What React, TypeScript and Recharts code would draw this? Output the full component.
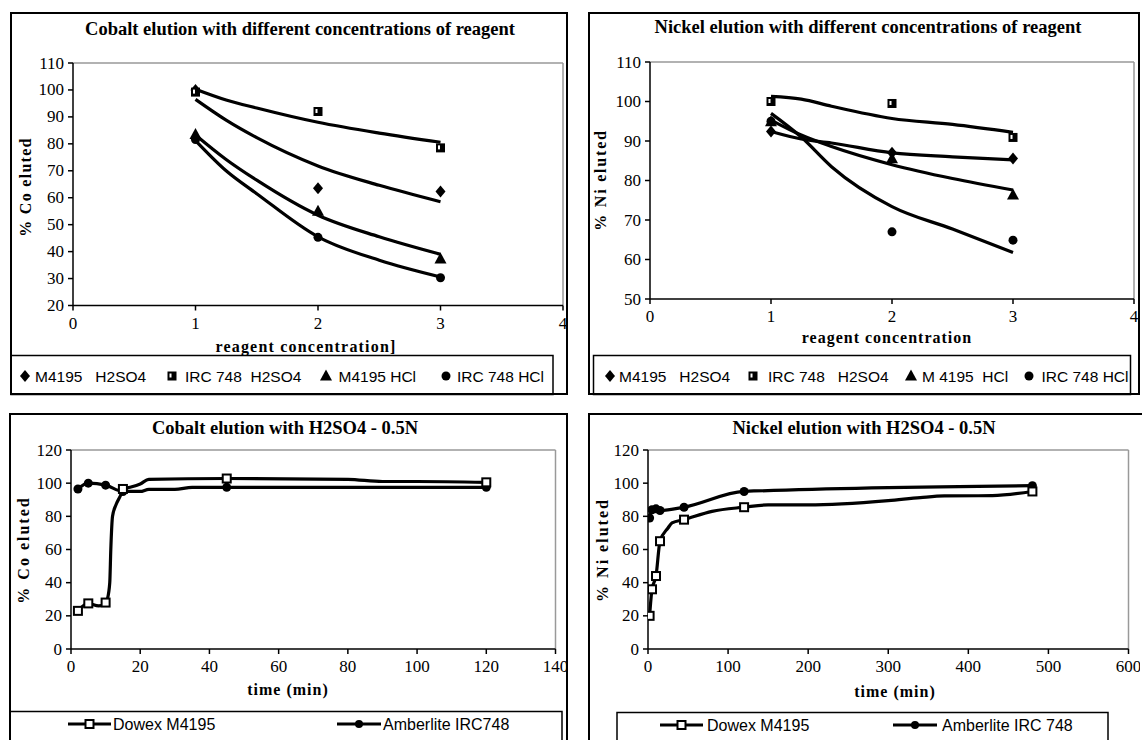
import React from "react";
import { ComposedChart, Line, Scatter, XAxis, YAxis, ReferenceLine } from "recharts";

// ---------- Cobalt / Nickel vs reagent concentration ----------
const concentration = [1, 2, 3];

const coM4195H2SO4 = [100, 63.5, 62.3];
const coIRC748H2SO4 = [99.2, 92, 78.5];
const coM4195HCl = [83.5, 55, 37.3];
const coIRC748HCl = [81.6, 45.3, 30.3];

// trend curves, read along the concentration axis
const trendX = [1, 1.25, 1.5, 2, 2.5, 3];
const coTrendIRC748H2SO4 = [100.3, 96.3, 93.3, 88, 84, 80.6];
const coTrendM4195H2SO4 = [96.5, 88.8, 82.3, 71.8, 64.6, 58.5];
const coTrendM4195HCl = [83.3, 74.2, 66.5, 53.5, 45.5, 39];
const coTrendIRC748HCl = [81.2, 70, 61.5, 45.5, 36.8, 30.6];

const niM4195H2SO4 = [92.4, 87, 85.6];
const niIRC748H2SO4 = [100, 99.5, 90.9];
const niM4195HCl = [94.9, 85.5, 76.3];
const niIRC748HCl = [95, 67, 64.9];

const niTrendIRC748H2SO4 = [101.3, 100.6, 98.8, 95.7, 94.2, 92.2];
const niTrendM4195H2SO4 = [92.4, 90.5, 89.5, 87, 86, 85.2];
const niTrendM4195HCl = [95.3, 91.5, 88.6, 84, 80.5, 77.6];
const niTrendIRC748HCl = [97, 91, 83.5, 73.4, 67.7, 61.8];

const concTicks = [0, 1, 2, 3, 4];
const coConcPctTicks = [20, 30, 40, 50, 60, 70, 80, 90, 100, 110];
const niConcPctTicks = [50, 60, 70, 80, 90, 100, 110];

// ---------- elution with H2SO4 0.5N vs time ----------
const coSampleTime = [2, 5, 10, 15, 45, 120];
const coDowex = [23, 27.5, 28, 96.5, 102.8, 100.5];
const coAmberlite = [96.5, 100, 98.8, 95, 97.5, 97.5];

const coDowexCurveT = [2, 5, 8, 10, 10.5, 11.2, 11.5, 12, 13, 14.4, 15, 17, 20, 22.5, 45, 80, 90, 100, 120];
const coDowexCurveV = [23, 27.5, 26, 28, 30, 40, 60, 80, 87, 93, 96.5, 97.5, 99.5, 102.3, 102.8, 102.3, 101, 101, 100.5];
const coAmberliteCurveT = [2, 5, 10, 15, 20, 22.5, 30, 35, 45, 120];
const coAmberliteCurveV = [96.5, 100, 98.8, 95, 95, 96.3, 96.3, 97.5, 97.5, 97.5];

const niSampleTime = [2, 5, 10, 15, 45, 120, 480];
const niDowex = [20, 36, 44, 65, 78, 85.5, 95];
const niAmberlite = [79, 84, 84.5, 83.5, 85.5, 95, 98.5];

const niDowexCurveT = [2, 5, 10, 15, 25, 30, 45, 80, 120, 150, 200, 300, 340, 370, 430, 480];
const niDowexCurveV = [20, 36, 44, 65, 73, 76, 78, 83, 85.5, 86.9, 86.9, 89.5, 91.3, 92.3, 92.5, 95];

const coTimeTicks = [0, 20, 40, 60, 80, 100, 120, 140];
const niTimeTicks = [0, 100, 200, 300, 400, 500, 600];
const pctTicks = [0, 20, 40, 60, 80, 100, 120];

// ---------- helpers ----------
type Pt = { x: number; y: number };
const pts = (xs: number[], ys: number[]): Pt[] => xs.map((x, i) => ({ x, y: ys[i] }));

const SERIF = '"Liberation Serif", "Times New Roman", serif';
const SANS = '"Liberation Sans", Arial, sans-serif';

const DiamondMark = ({ cx, cy }: any) => (
  <path d={`M${cx},${cy - 6}L${cx + 5},${cy}L${cx},${cy + 6}L${cx - 5},${cy}Z`} fill="#000" />
);
const SquareMark = ({ cx, cy }: any) => (
  <g>
    <rect x={cx - 4.5} y={cy - 4.5} width={9} height={9} fill="#000" />
    <rect x={cx - 2.5} y={cy - 2.5} width={2} height={4} fill="#fff" />
  </g>
);
const TriangleMark = ({ cx, cy }: any) => (
  <path d={`M${cx},${cy - 6.5}L${cx + 6},${cy + 4.5}L${cx - 6},${cy + 4.5}Z`} fill="#000" />
);
const DotMark = ({ cx, cy }: any) => <circle cx={cx} cy={cy} r={4.5} fill="#000" />;
const OpenSquareMark = ({ cx, cy }: any) => (
  <rect x={cx - 4} y={cy - 4} width={8} height={8} fill="#fff" stroke="#000" strokeWidth={2} />
);

// tick label with the slightly wide serif digits of the printed figure
const SerifTick = ({ x, y, payload, textAnchor, orientation }: any) => {
  const dy = orientation === "left" ? 5.5 : 12;
  return (
    <text
      x={x}
      y={y}
      dy={dy}
      textAnchor={textAnchor}
      fill="#000"
      style={{ fontFamily: SERIF, fontSize: 17 }}
    >
      {payload.value}
    </text>
  );
};

type Series = { curve: Pt[]; marks: Pt[]; shape: any };

function Plot(props: {
  left: number;
  top: number;
  right: number;
  bottom: number;
  xDomain: [number, number];
  xTicks: number[];
  yDomain: [number, number];
  yTicks: number[];
  series: Series[];
}) {
  const { left, top, right, bottom, xDomain, xTicks, yDomain, yTicks, series } = props;
  const padL = 62;
  const padT = 10;
  const padR = 12;
  const padB = 40;
  const w = right - left;
  const h = bottom - top;
  return (
    <div style={{ position: "absolute", left: left - padL, top: top - padT }}>
      <ComposedChart
        width={w + padL + padR}
        height={h + padT + padB}
        margin={{ top: padT, right: padR, bottom: 0, left: 0 }}
      >
        <ReferenceLine y={yDomain[1]} stroke="#999" strokeWidth={1.5} />
        <ReferenceLine x={xDomain[1]} stroke="#999" strokeWidth={1.5} />
        <XAxis
          type="number"
          dataKey="x"
          domain={xDomain}
          ticks={xTicks}
          interval={0}
          allowDataOverflow
          height={padB}
          stroke="#000"
          strokeWidth={1.5}
          tickSize={5}
          tickMargin={6}
          tick={<SerifTick orientation="bottom" />}
        />
        <YAxis
          type="number"
          dataKey="y"
          domain={yDomain}
          ticks={yTicks}
          interval={0}
          allowDataOverflow
          width={padL}
          stroke="#000"
          strokeWidth={1.5}
          tickSize={5}
          tickMargin={4}
          tick={<SerifTick orientation="left" />}
        />
        {series.map((s, i) => (
          <Line
            key={"l" + i}
            data={s.curve}
            dataKey="y"
            type="monotone"
            stroke="#000"
            strokeWidth={3.2}
            strokeLinejoin="round"
            dot={false}
            activeDot={false}
            isAnimationActive={false}
          />
        ))}
        {series.map((s, i) => (
          <Scatter key={"s" + i} data={s.marks} dataKey="y" shape={s.shape} isAnimationActive={false} />
        ))}
      </ComposedChart>
    </div>
  );
}

function LegendSymbol({ kind, x, y }: { kind: string; x: number; y: number }) {
  if (kind === "diamond") return <DiamondMark cx={x} cy={y} />;
  if (kind === "square") return <SquareMark cx={x} cy={y} />;
  if (kind === "triangle") return <TriangleMark cx={x} cy={y} />;
  return <DotMark cx={x} cy={y} />;
}

function LineLegendSymbol({ x1, x2, y, kind }: { x1: number; x2: number; y: number; kind: string }) {
  const cx = (x1 + x2) / 2;
  return (
    <g>
      <line x1={x1} y1={y} x2={x2} y2={y} stroke="#000" strokeWidth={3} />
      {kind === "square" ? (
        <rect x={cx - 4} y={y - 4} width={8} height={8} fill="#fff" stroke="#000" strokeWidth={2} />
      ) : (
        <circle cx={cx} cy={y} r={4} fill="#000" />
      )}
    </g>
  );
}

const titleStyle = { fontFamily: SERIF, fontWeight: 700, fontSize: 18.5 } as const;
const axisTitleStyle = { fontFamily: SERIF, fontWeight: 700, fontSize: 16 } as const;
const legendStyle = { fontFamily: SANS, fontSize: 15.5, whiteSpace: "pre" } as const;
const legendStyle2 = { fontFamily: SANS, fontSize: 16, whiteSpace: "pre" } as const;

export default function App() {
  return (
    <div
      style={{
        position: "absolute",
        left: 0,
        top: 0,
        width: 1142,
        height: 740,
        background: "#fff",
        overflow: "hidden",
      }}
    >
      <Plot
        left={73}
        top={62.5}
        right={563}
        bottom={305}
        xDomain={[0, 4]}
        xTicks={concTicks}
        yDomain={[20, 110]}
        yTicks={coConcPctTicks}
        series={[
          { curve: pts(trendX, coTrendIRC748HCl), marks: pts(concentration, coIRC748HCl), shape: DotMark },
          { curve: pts(trendX, coTrendM4195H2SO4), marks: pts(concentration, coM4195H2SO4), shape: DiamondMark },
          { curve: pts(trendX, coTrendIRC748H2SO4), marks: pts(concentration, coIRC748H2SO4), shape: SquareMark },
          { curve: pts(trendX, coTrendM4195HCl), marks: pts(concentration, coM4195HCl), shape: TriangleMark },
        ]}
      />
      <Plot
        left={650}
        top={62}
        right={1134}
        bottom={299}
        xDomain={[0, 4]}
        xTicks={concTicks}
        yDomain={[50, 110]}
        yTicks={niConcPctTicks}
        series={[
          { curve: pts(trendX, niTrendIRC748HCl), marks: pts(concentration, niIRC748HCl), shape: DotMark },
          { curve: pts(trendX, niTrendM4195H2SO4), marks: pts(concentration, niM4195H2SO4), shape: DiamondMark },
          { curve: pts(trendX, niTrendIRC748H2SO4), marks: pts(concentration, niIRC748H2SO4), shape: SquareMark },
          { curve: pts(trendX, niTrendM4195HCl), marks: pts(concentration, niM4195HCl), shape: TriangleMark },
        ]}
      />
      <Plot
        left={70.5}
        top={450}
        right={555}
        bottom={649}
        xDomain={[0, 140]}
        xTicks={coTimeTicks}
        yDomain={[0, 120]}
        yTicks={pctTicks}
        series={[
          { curve: pts(coAmberliteCurveT, coAmberliteCurveV), marks: pts(coSampleTime, coAmberlite), shape: DotMark },
          { curve: pts(coDowexCurveT, coDowexCurveV), marks: pts(coSampleTime, coDowex), shape: OpenSquareMark },
        ]}
      />
      <Plot
        left={647.5}
        top={450}
        right={1128}
        bottom={649}
        xDomain={[0, 600]}
        xTicks={niTimeTicks}
        yDomain={[0, 120]}
        yTicks={pctTicks}
        series={[
          { curve: pts(niSampleTime, niAmberlite), marks: pts(niSampleTime, niAmberlite), shape: DotMark },
          { curve: pts(niDowexCurveT, niDowexCurveV), marks: pts(niSampleTime, niDowex), shape: OpenSquareMark },
        ]}
      />

      <svg
        width={1142}
        height={740}
        style={{ position: "absolute", left: 0, top: 0, pointerEvents: "none" }}
      >
        {/* panel frames */}
        <rect x={11} y={13} width={556} height={381} fill="none" stroke="#000" strokeWidth={2} />
        <rect x={589} y={13} width={550} height={381} fill="none" stroke="#000" strokeWidth={2} />
        <rect x={10} y={414} width={557} height={340} fill="none" stroke="#000" strokeWidth={2} />
        <rect x={589} y={414} width={560} height={340} fill="none" stroke="#000" strokeWidth={2} />

        {/* legend frames */}
        <rect x={11} y={355.5} width={542} height={39} fill="none" stroke="#000" strokeWidth={1.5} />
        <rect x={593.5} y={355.5} width={537} height={39} fill="none" stroke="#000" strokeWidth={1.5} />
        <rect x={10} y={711.5} width={552} height={40} fill="none" stroke="#000" strokeWidth={1.5} />
        <rect x={617} y={712.5} width={491} height={40} fill="none" stroke="#000" strokeWidth={1.5} />

        {/* titles */}
        <text x={300} y={35} textAnchor="middle" style={titleStyle}>
          Cobalt elution with different concentrations of reagent
        </text>
        <text x={868} y={33} textAnchor="middle" style={titleStyle}>
          Nickel elution with different concentrations of reagent
        </text>
        <text x={285} y={433.5} textAnchor="middle" style={titleStyle}>
          Cobalt elution with H2SO4 - 0.5N
        </text>
        <text x={864} y={434} textAnchor="middle" style={titleStyle}>
          Nickel elution with H2SO4 - 0.5N
        </text>

        {/* axis titles */}
        <text transform="translate(25,187) rotate(-90)" y={5.5} textAnchor="middle" style={{ ...axisTitleStyle, letterSpacing: 1.3 }}>
          % Co eluted
        </text>
        <text transform="translate(600,180) rotate(-90)" y={5.5} textAnchor="middle" style={{ ...axisTitleStyle, letterSpacing: 1.8 }}>
          % Ni eluted
        </text>
        <text transform="translate(23,550) rotate(-90)" y={5.5} textAnchor="middle" style={{ ...axisTitleStyle, letterSpacing: 2 }}>
          % Co eluted
        </text>
        <text transform="translate(602,550) rotate(-90)" y={5.5} textAnchor="middle" style={{ ...axisTitleStyle, letterSpacing: 2 }}>
          % Ni eluted
        </text>

        <text x={306} y={352} textAnchor="middle" style={{ ...axisTitleStyle, letterSpacing: 1.2 }}>
          reagent concentration]
        </text>
        <text x={887} y={343} textAnchor="middle" style={{ ...axisTitleStyle, letterSpacing: 1 }}>
          reagent concentration
        </text>
        <text x={288} y={695} textAnchor="middle" style={{ ...axisTitleStyle, letterSpacing: 1 }}>
          time (min)
        </text>
        <text x={895} y={697} textAnchor="middle" style={{ ...axisTitleStyle, letterSpacing: 1 }}>
          time (min)
        </text>

        {/* legend: cobalt vs concentration */}
        <LegendSymbol kind="diamond" x={25} y={376} />
        <text x={35} y={382} style={legendStyle}>M4195   H2SO4</text>
        <LegendSymbol kind="square" x={172} y={376} />
        <text x={185} y={382} style={legendStyle}>IRC 748  H2SO4</text>
        <LegendSymbol kind="triangle" x={326} y={376} />
        <text x={338.5} y={382} style={legendStyle}>M4195 HCl</text>
        <LegendSymbol kind="circle" x={446} y={376} />
        <text x={457} y={382} style={legendStyle}>IRC 748 HCl</text>

        {/* legend: nickel vs concentration */}
        <LegendSymbol kind="diamond" x={610} y={376} />
        <text x={619} y={382} style={legendStyle}>M4195   H2SO4</text>
        <LegendSymbol kind="square" x={753} y={376} />
        <text x={768} y={382} style={legendStyle}>IRC 748   H2SO4</text>
        <LegendSymbol kind="triangle" x={911} y={376} />
        <text x={922} y={382} style={legendStyle}>M 4195  HCl</text>
        <LegendSymbol kind="circle" x={1029} y={376} />
        <text x={1041.5} y={382} style={legendStyle}>IRC 748 HCl</text>

        {/* legend: time series */}
        <LineLegendSymbol x1={68} x2={111} y={724} kind="square" />
        <text x={113} y={730} style={legendStyle2}>Dowex M4195</text>
        <LineLegendSymbol x1={337} x2={381} y={724} kind="circle" />
        <text x={383} y={730} style={legendStyle2}>Amberlite IRC748</text>

        <LineLegendSymbol x1={660} x2={703} y={725} kind="square" />
        <text x={707} y={731} style={legendStyle2}>Dowex M4195</text>
        <LineLegendSymbol x1={893} x2={937} y={725} kind="circle" />
        <text x={942} y={731} style={legendStyle2}>Amberlite IRC 748</text>
      </svg>
    </div>
  );
}
